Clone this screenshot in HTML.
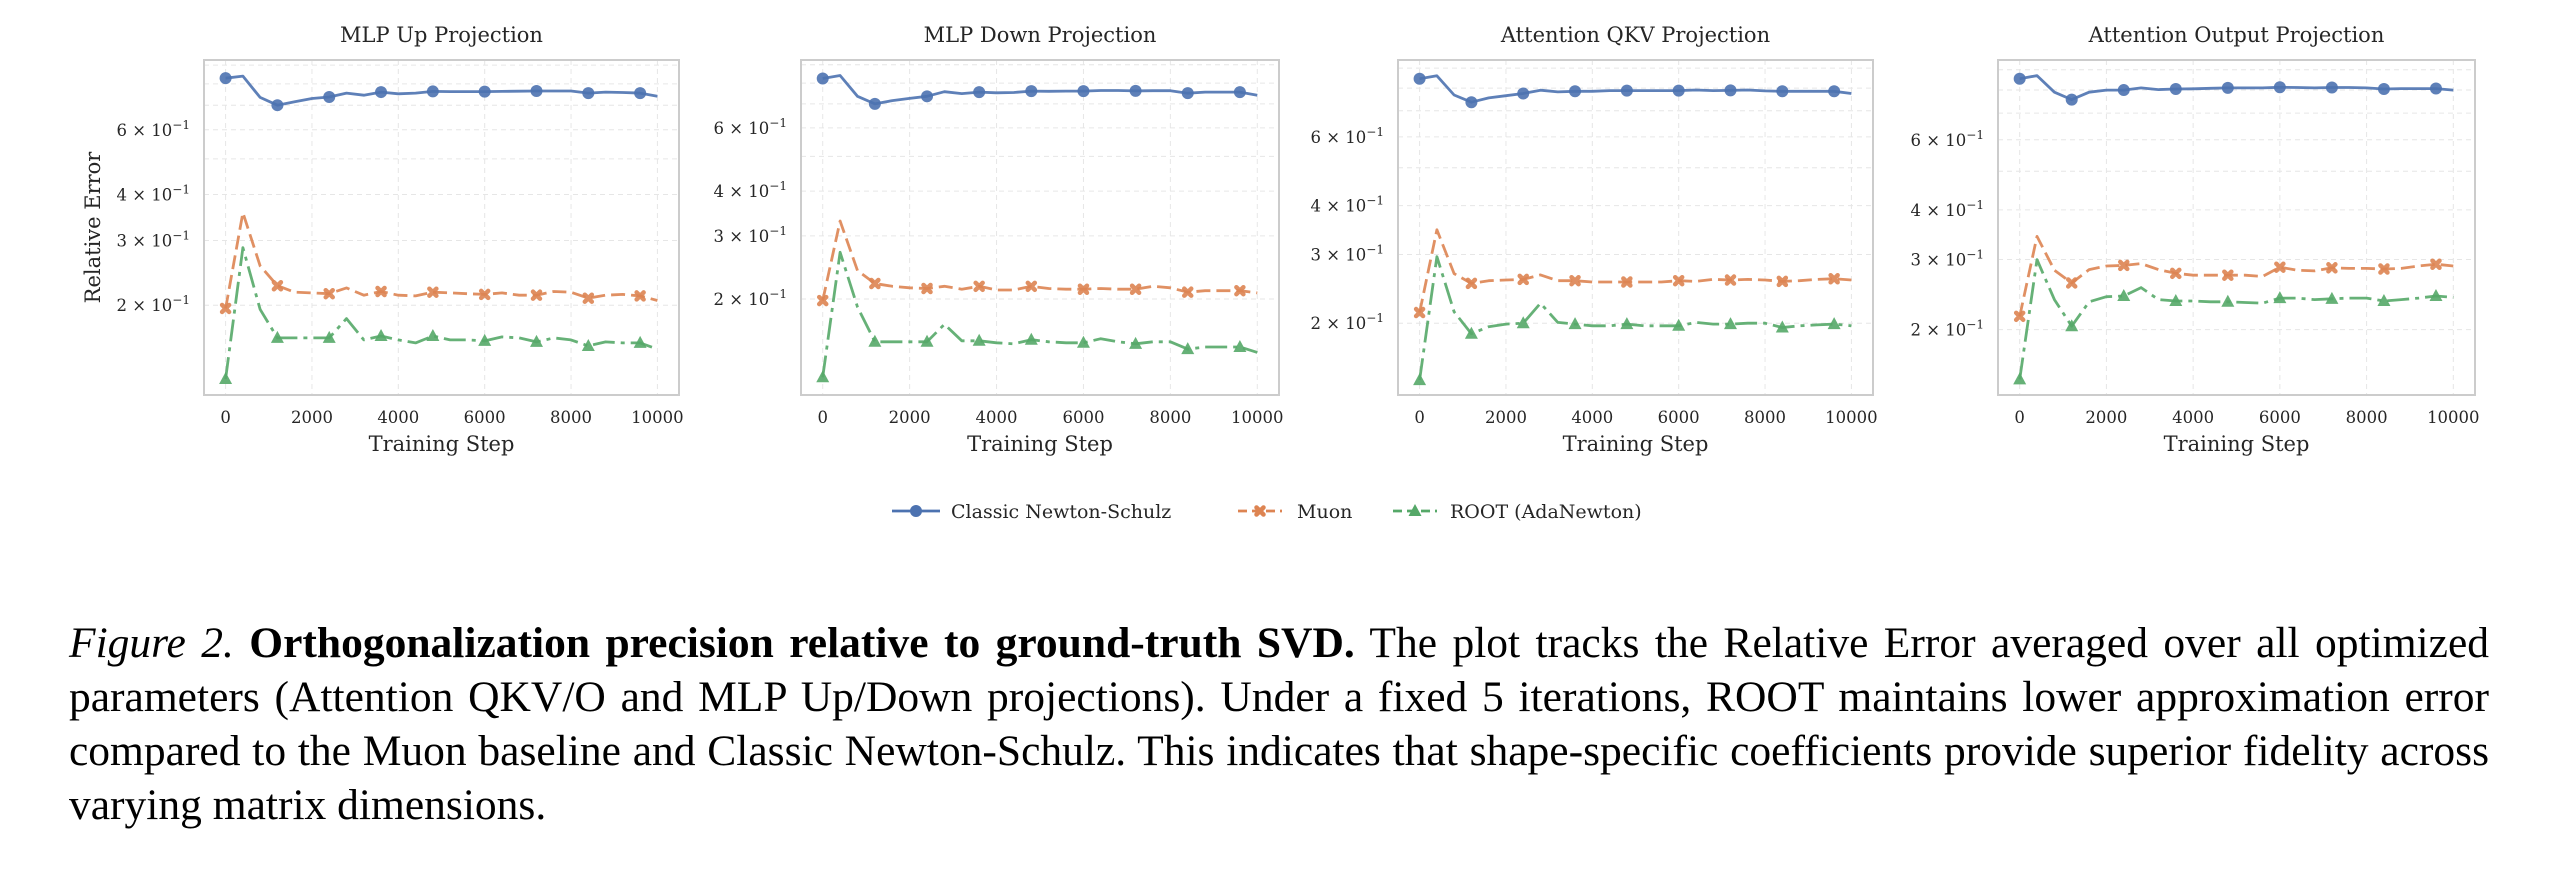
<!DOCTYPE html>
<html><head><meta charset="utf-8"><style>
html,body{margin:0;padding:0;background:#fff;}
body{width:2554px;height:896px;position:relative;overflow:hidden;}
svg{position:absolute;left:0;top:0;}
.cap{position:absolute;left:69px;width:2420px;font-family:"Liberation Serif",serif;font-size:43.5px;line-height:54px;color:#000;white-space:nowrap;}
.j{text-align:justify;text-align-last:justify;}
</style></head><body>
<svg id="fig" width="2554" height="560" xmlns="http://www.w3.org/2000/svg"></svg>
<div class="cap j" style="top:616px"><i>Figure 2.</i> <b>Orthogonalization precision relative to ground-truth SVD.</b> The plot tracks the Relative Error averaged over all optimized</div>
<div class="cap j" style="top:670px">parameters (Attention QKV/O and MLP Up/Down projections). Under a fixed 5 iterations, ROOT maintains lower approximation error</div>
<div class="cap j" style="top:724px">compared to the Muon baseline and Classic Newton-Schulz. This indicates that shape-specific coefficients provide superior fidelity across</div>
<div class="cap" style="top:778px">varying matrix dimensions.</div>
<script>
const steps = [0,400,800,1200,1600,2000,2400,2800,3200,3600,4000,4400,4800,5200,5600,6000,6400,6800,7200,7600,8000,8400,8800,9200,9600,10000];
const panelTitles = ["MLP Up Projection","MLP Down Projection","Attention QKV Projection","Attention Output Projection"];
const xTicks = [0,2000,4000,6000,8000,10000];
const yTicks = [0.2,0.3,0.4,0.6];
const yTickLabels = ["2","3","4","6"];
const seriesNames = ["Classic Newton-Schulz","Muon","ROOT (AdaNewton)"];

const upClassic = [0.829,0.84,0.735,0.70,0.715,0.73,0.737,0.755,0.745,0.76,0.752,0.755,0.763,0.762,0.762,0.762,0.763,0.764,0.765,0.765,0.765,0.755,0.76,0.758,0.755,0.74];
const upMuon = [0.196,0.357,0.256,0.226,0.217,0.216,0.215,0.223,0.213,0.218,0.213,0.212,0.217,0.216,0.215,0.214,0.216,0.213,0.213,0.218,0.217,0.209,0.213,0.214,0.212,0.206];
const upRoot = [0.126,0.287,0.195,0.163,0.163,0.163,0.163,0.184,0.161,0.165,0.161,0.158,0.165,0.161,0.161,0.160,0.164,0.163,0.159,0.163,0.161,0.155,0.159,0.158,0.158,0.152];

const downClassic = [0.824,0.84,0.735,0.70,0.715,0.725,0.735,0.757,0.748,0.755,0.752,0.753,0.76,0.759,0.76,0.76,0.763,0.763,0.761,0.762,0.762,0.75,0.755,0.755,0.755,0.74];
const downMuon = [0.198,0.33,0.24,0.221,0.217,0.215,0.214,0.217,0.213,0.217,0.212,0.212,0.217,0.214,0.213,0.213,0.214,0.213,0.213,0.217,0.215,0.209,0.211,0.211,0.211,0.208];
const downRoot = [0.121,0.27,0.19,0.152,0.152,0.152,0.152,0.17,0.153,0.153,0.151,0.150,0.154,0.152,0.151,0.151,0.155,0.152,0.150,0.152,0.152,0.145,0.147,0.147,0.147,0.142];

const qkvClassic = [0.845,0.86,0.768,0.736,0.755,0.765,0.775,0.79,0.782,0.785,0.785,0.788,0.788,0.788,0.788,0.788,0.791,0.788,0.789,0.791,0.787,0.785,0.785,0.785,0.785,0.775];
const qkvMuon = [0.213,0.347,0.268,0.253,0.257,0.258,0.259,0.266,0.257,0.257,0.255,0.255,0.255,0.255,0.255,0.257,0.256,0.259,0.258,0.259,0.258,0.256,0.257,0.259,0.26,0.258];
const qkvRoot = [0.143,0.296,0.214,0.188,0.196,0.199,0.2,0.225,0.201,0.199,0.197,0.197,0.199,0.197,0.197,0.197,0.201,0.199,0.199,0.2,0.2,0.195,0.197,0.198,0.199,0.197];

const outClassic = [0.854,0.87,0.79,0.757,0.79,0.8,0.8,0.81,0.802,0.805,0.806,0.808,0.81,0.81,0.81,0.813,0.812,0.81,0.812,0.812,0.81,0.805,0.807,0.807,0.807,0.8];
const outMuon = [0.216,0.343,0.282,0.262,0.283,0.289,0.29,0.293,0.283,0.277,0.274,0.274,0.274,0.274,0.272,0.287,0.282,0.281,0.286,0.285,0.285,0.284,0.285,0.289,0.292,0.289];
const outRoot = [0.15,0.3,0.238,0.204,0.235,0.242,0.243,0.255,0.238,0.236,0.236,0.235,0.235,0.234,0.233,0.24,0.24,0.238,0.239,0.24,0.24,0.236,0.238,0.24,0.243,0.241];

const panelSeries = [[upClassic,upMuon,upRoot],[downClassic,downMuon,downRoot],[qkvClassic,qkvMuon,qkvRoot],[outClassic,outMuon,outRoot]];

const geom = [
 {l:204,r:679,ymin:0.114,ymax:0.929,ylab:true},
 {l:801,r:1279,ymin:0.108,ymax:0.928},
 {l:1398,r:1873,ymin:0.131,ymax:0.944},
 {l:1998,r:2475,ymin:0.137,ymax:0.952}
];
const TOP=60, BOT=395;
const colors=["#4c72b0","#dd8452","#55a868"];
const dashes=["","14,6","22,6,4,6"];
const NS="http://www.w3.org/2000/svg";
const svg=document.getElementById('fig');
function mk(tag,attrs,parent){const e=document.createElementNS(NS,tag);for(const k in attrs)e.setAttribute(k,attrs[k]);(parent||svg).appendChild(e);return e;}
const SERIF='"DejaVu Serif","Liberation Serif",serif';

function marker(g,kind,x,y,c){
  let m;
  if(kind===0){m=mk('circle',{cx:x,cy:y,r:6,fill:c},g);}
  else if(kind===1){const s=3.5;m=mk('path',{d:`M${x-s},${y-s}L${x+s},${y+s}M${x+s},${y-s}L${x-s},${y+s}`,stroke:c,'stroke-width':4.5,'stroke-linecap':'round',fill:'none'},g);}
  else {m=mk('path',{d:`M${x},${y-7}L${x+6.5},${y+5}L${x-6.5},${y+5}Z`,fill:c},g);}
  return m;
}

geom.forEach((G,p)=>{
  const g=mk('g',{});
  
  
  const xs=v=>G.l+(G.r-G.l)*(v+500)/11000;
  const ys=v=>TOP+(BOT-TOP)*(Math.log10(G.ymax)-Math.log10(v))/(Math.log10(G.ymax)-Math.log10(G.ymin));
  xTicks.forEach(t=>{const gl=mk('line',{x1:xs(t),x2:xs(t),y1:TOP,y2:BOT,stroke:'#e6e6e6','stroke-width':1,'stroke-dasharray':'5,4'},g);});
  for(let v=0.1;v<=0.95;v+=0.1){const vv=Math.round(v*10)/10;if(vv<=G.ymin||vv>=G.ymax)continue;const gl=mk('line',{x1:G.l,x2:G.r,y1:ys(vv),y2:ys(vv),stroke:'#e6e6e6','stroke-width':1,'stroke-dasharray':'5,4'},g);}
  const fr=mk('rect',{x:G.l,y:TOP,width:G.r-G.l,height:BOT-TOP,fill:'none',stroke:'#cccccc','stroke-width':2},g);
  
  const ti=mk('text',{x:(G.l+G.r)/2,y:42,'text-anchor':'middle','font-family':SERIF,'font-size':21,fill:'#262626'},g);
  ti.textContent=panelTitles[p];
  xTicks.forEach(t=>{const tx=mk('text',{x:xs(t),y:423,'text-anchor':'middle','font-family':SERIF,'font-size':16.5,fill:'#262626'},g);tx.textContent=String(t);});
  const xl=mk('text',{x:(G.l+G.r)/2,y:451,'text-anchor':'middle','font-family':SERIF,'font-size':21,fill:'#262626'},g);
  xl.textContent='Training Step';
  yTicks.forEach((t,i)=>{
    const yt=mk('text',{x:G.l-14,y:ys(t)+6,'text-anchor':'end','font-family':SERIF,'font-size':16.5,fill:'#262626'},g);
    
    const a=document.createElementNS(NS,'tspan');a.textContent=yTickLabels[i]+' × 10';yt.appendChild(a);
    const b=document.createElementNS(NS,'tspan');b.setAttribute('dy','-7');b.setAttribute('font-size','12');b.textContent='−1';yt.appendChild(b);
  });
  if(G.ylab){const yl=mk('text',{x:0,y:0,'text-anchor':'middle','font-family':SERIF,'font-size':21,fill:'#262626',transform:`translate(100,${(TOP+BOT)/2}) rotate(-90)`},g);yl.textContent='Relative Error';}
  panelSeries[p].forEach((vals,s)=>{
    const d=vals.map((v,i)=>(i?'L':'M')+xs(steps[i]).toFixed(1)+','+ys(v).toFixed(1)).join('');
    const ln=mk('path',{d:d,fill:'none',stroke:colors[s],'stroke-width':2.8,'stroke-dasharray':dashes[s],'stroke-linejoin':'round','opacity':0.9},g);
    
    
    vals.forEach((v,i)=>{if(i%3!==0)return;const m=marker(g,s,xs(steps[i]),ys(v),colors[s]);m.setAttribute('opacity','0.9');
      
      });
  });
});
const lg=mk('g',{});


const legX=[[892,940,951],[1238,1282,1297],[1393,1437,1450]];
seriesNames.forEach((n,s)=>{
  const [a,b,t]=legX[s];
  const ln=mk('line',{x1:a,x2:b,y1:511,y2:511,stroke:colors[s],'stroke-width':2.8,'stroke-dasharray':s?'9,5':''},lg);
  
  marker(lg,s,(a+b)/2,511,colors[s]);
  const tx=mk('text',{x:t,y:518,'font-family':SERIF,'font-size':19,fill:'#262626'},lg);
  tx.textContent=n;
});
</script>
</body></html>
